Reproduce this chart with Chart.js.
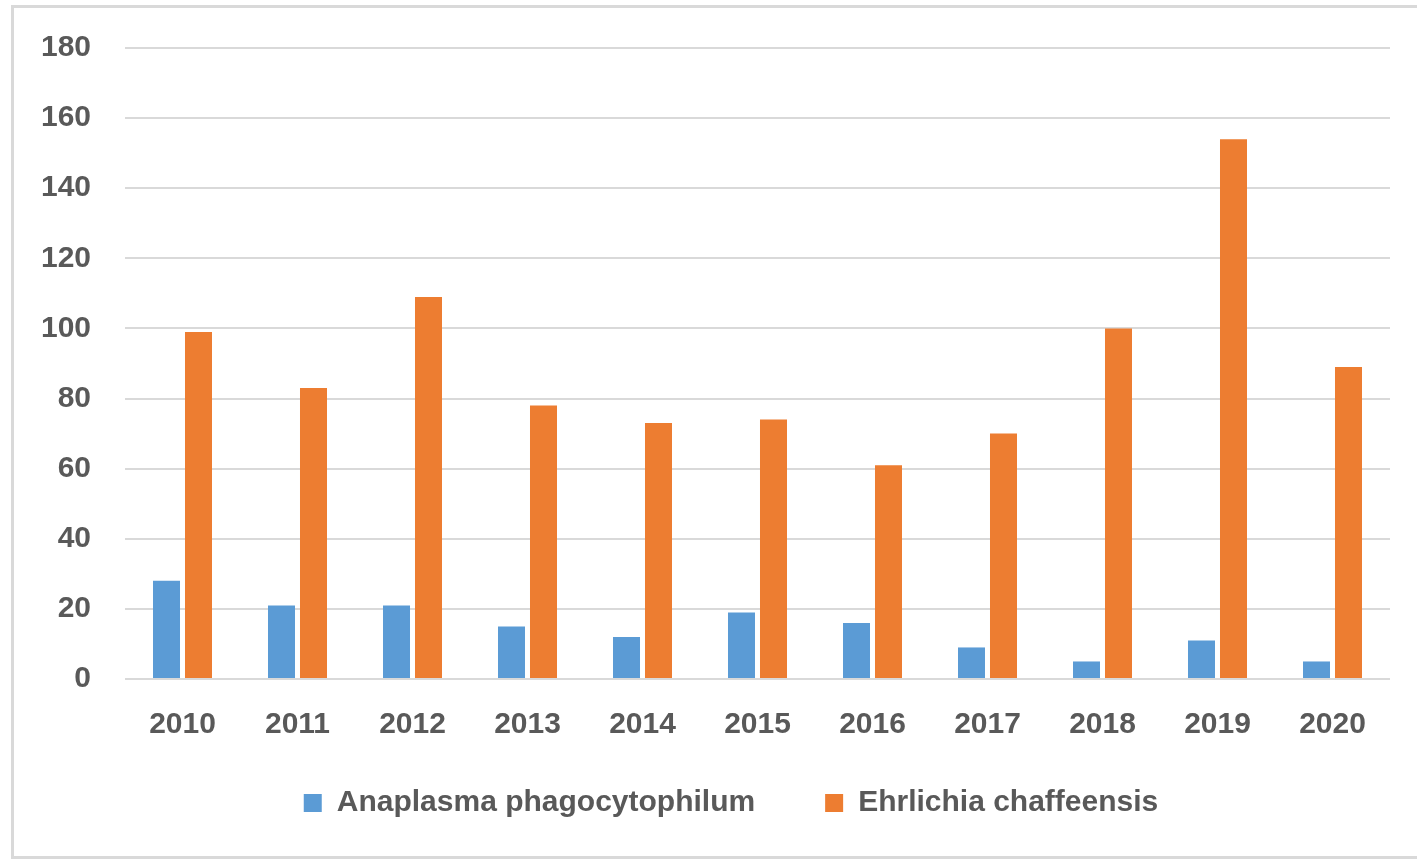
<!DOCTYPE html>
<html>
<head>
<meta charset="utf-8">
<script src="https://cdn.jsdelivr.net/npm/chart.js@4/dist/chart.umd.min.js"></script>
<style>
  html, body { margin: 0; padding: 0; background: #fff; overflow: hidden; }
  #frame { position: absolute; left: 11px; top: 5px; width: 1420px; height: 848px;
           border: 3px solid #d9d9d9; border-right: none; box-sizing: content-box; }
  #wrap { position: absolute; left: 0; top: 0; width: 1417px; height: 859px; }
</style>
</head>
<body>
<div id="frame"></div>
<div id="wrap"><canvas id="c" width="1417" height="859"></canvas></div>
<script>
const years = ['2010','2011','2012','2013','2014','2015','2016','2017','2018','2019','2020'];
const anaplasma = [28, 21, 21, 15, 12, 19, 16, 9, 5, 11, 5];
const ehrlichia = [99, 83, 109, 78, 73, 74, 61, 70, 100, 154, 89];
const seriesNames = ['Anaplasma phagocytophilum', 'Ehrlichia chaffeensis'];
const yTicks = [0, 20, 40, 60, 80, 100, 120, 140, 160, 180];

const textColor = '#595959';
const fontFamily = "'Liberation Sans', Arial, sans-serif";

// shift the legend box so it sits where the reference puts it
const legendPlace = {
  id: 'legendPlace',
  afterLayout(chart) {
    const lg = chart.legend;
    if (!lg) return;
    lg.left += 72;
    lg.top = 718;
    lg.bottom = lg.top + lg.height;
  }
};

new Chart(document.getElementById('c'), {
  type: 'bar',
  data: {
    labels: years,
    datasets: [
      { label: seriesNames[0], data: anaplasma, backgroundColor: '#5B9BD5',
        categoryPercentage: 0.5565, barPercentage: 0.844 },
      { label: seriesNames[1], data: ehrlichia, backgroundColor: '#ED7D31',
        categoryPercentage: 0.5565, barPercentage: 0.844 }
    ]
  },
  plugins: [legendPlace],
  options: {
    responsive: false,
    animation: false,
    devicePixelRatio: 1,
    layout: { padding: { left: 0, right: 27, top: 48, bottom: 0 } },
    plugins: {
      tooltip: { enabled: false },
      legend: {
        position: 'bottom',
        labels: {
          boxWidth: 18, boxHeight: 18, padding: 70,
          color: textColor,
          font: { family: fontFamily, size: 30, weight: 'bold' }
        }
      }
    },
    scales: {
      x: {
        grid: { display: false },
        border: { display: false },
        ticks: { color: textColor, padding: 20, font: { family: fontFamily, size: 30, weight: 'bold' } },
        afterFit: (s) => { s.height = 70; }
      },
      y: {
        min: 0, max: 180,
        afterBuildTicks: (s) => { s.ticks = yTicks.map(v => ({ value: v })); },
        grid: { color: '#d9d9d9', lineWidth: 2, drawTicks: false },
        border: { display: false },
        ticks: { color: textColor, padding: 34, font: { family: fontFamily, size: 30, weight: 'bold' } },
        afterFit: (s) => { s.width = 125; s.paddingTop = 0; s.paddingBottom = 0; }
      }
    }
  }
});
</script>
</body>
</html>
